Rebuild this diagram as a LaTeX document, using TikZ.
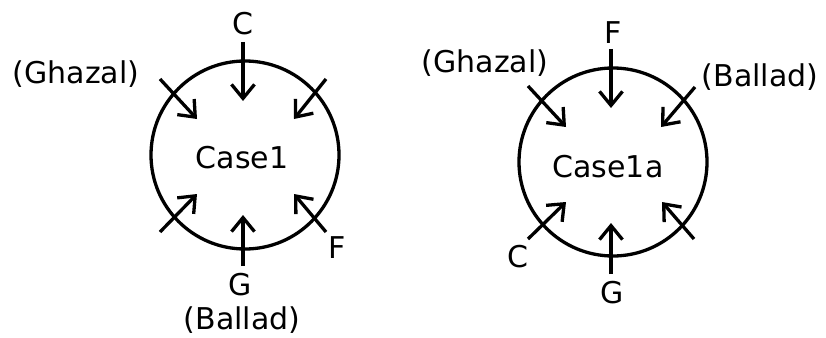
\documentclass[tikz,border=0pt]{standalone}
\usepackage{fontspec}
\setmainfont{DejaVu Sans}
\usetikzlibrary{arrows.meta}
\begin{document}
\begin{tikzpicture}[x=1pt,y=-1pt,
  ring/.style={draw,circle,line width=3.3pt,minimum size=188pt,inner sep=0pt},
  lbl/.style={font=\fontsize{30}{36}\selectfont,inner sep=0pt,text=black},
  inarrow/.style={line width=3.3pt,-{Straight Barb[length=14pt,width=23pt]}}]
\useasboundingbox (0,0) rectangle (826,337);

% first circle
\node[ring] (c1) at (245,155) {};
\node[lbl] (t1) at (242,158) {Case1};
\coordinate (a1s) at (243,42);  \coordinate (a1e) at (243,101);
\coordinate (a2s) at (160,79);  \coordinate (a2e) at (197,119);
\coordinate (a3s) at (326,79);  \coordinate (a3e) at (294,119);
\coordinate (a4s) at (160,232); \coordinate (a4e) at (197,194);
\coordinate (a5s) at (243,266); \coordinate (a5e) at (243,215);
\coordinate (a6s) at (326,232); \coordinate (a6e) at (294,194);
\foreach \i in {1,...,6} \draw[inarrow] (a\i s) -- (a\i e);
\node[lbl] (l1c) at (243,24) {C};
\node[lbl] (l1g) at (76,74) {(Ghazal)};
\node[lbl] (l1f) at (337,248) {F};
\node[lbl] (l1G) at (240,285) {G};
\node[lbl] (l1b) at (242,320) {(Ballad)};

% second circle
\node[ring] (c2) at (613,162) {};
\node[lbl] (t2) at (608,167) {Case1a};
\coordinate (b1s) at (611,49);  \coordinate (b1e) at (611,108);
\coordinate (b2s) at (528,86);  \coordinate (b2e) at (566,127);
\coordinate (b3s) at (695,87);  \coordinate (b3e) at (661,127);
\coordinate (b4s) at (528,239); \coordinate (b4e) at (566,202);
\coordinate (b5s) at (611,274); \coordinate (b5e) at (611,223);
\coordinate (b6s) at (694,239); \coordinate (b6e) at (662,202);
\foreach \i in {1,...,6} \draw[inarrow] (b\i s) -- (b\i e);
\node[lbl] (l2f) at (613,33) {F};
\node[lbl] (l2g) at (485,63) {(Ghazal)};
\node[lbl] (l2b) at (760,77) {(Ballad)};
\node[lbl] (l2c) at (518,257) {C};
\node[lbl] (l2G) at (612,293) {G};
\end{tikzpicture}
\end{document}
